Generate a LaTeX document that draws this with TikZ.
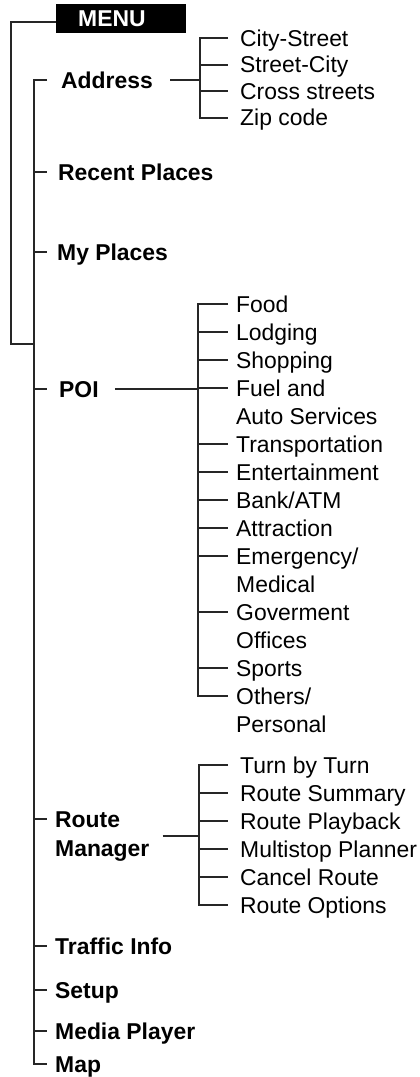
\documentclass[tikz,border=0pt]{standalone}
\usepackage{fontspec}
\setmainfont{Liberation Sans}
\usetikzlibrary{calc}

\newcommand{\menufont}{\fontsize{22.9pt}{28pt}\selectfont}

\tikzset{
  menubox/.style={fill=black, text=white, font=\menufont\bfseries, anchor=west,
    inner xsep=22pt, inner ysep=0pt, text width=86pt, minimum height=29pt},
  mainitem/.style={anchor=west, inner sep=0pt, font=\menufont\bfseries,
    text height=16.4pt, text depth=0pt},
  subitem/.style={anchor=west, inner sep=0pt, font=\menufont,
    text height=16.4pt, text depth=0pt},
  tree/.style={line width=2pt, draw=black!85}
}

\begin{document}
\begin{tikzpicture}[x=1pt, y=-1pt]
  \useasboundingbox (0,0) rectangle (420,1077);

  \node[menubox] (menu) at (56,18.5) {MENU};

  % main entries
  \node[mainitem] (address)  at (61,80)   {Address};
  \node[mainitem] (recent)   at (58,172)  {Recent Places};
  \node[mainitem] (myplaces) at (57,252)  {My Places};
  \node[mainitem] (poi)      at (59,389)  {POI};
  \node[mainitem] (route)    at (55,819)  {Route};
  \node[mainitem] (routemgr) at (55,848)  {Manager};
  \node[mainitem] (traffic)  at (55,946)  {Traffic Info};
  \node[mainitem] (setup)    at (55,990)  {Setup};
  \node[mainitem] (media)    at (55,1031) {Media Player};
  \node[mainitem] (map)      at (55,1064) {Map};

  \coordinate (outer)   at (11,344);
  \coordinate (trunk)   at (34,0);
  \coordinate (tickend) at (47,0);

  % trunk
  \draw[tree] ([yshift=-3pt]menu.west) -| (outer) -- (trunk |- outer);
  \draw[tree] (tickend |- address.west) -| (trunk |- map.west) -- (tickend |- map.west);
  \foreach \n in {recent, myplaces, poi, route, traffic, setup, media}
    \draw[tree] (trunk |- \n.west) -- (tickend |- \n.west);

  % address submenu
  \coordinate (addr-bar) at (200,0);
  \coordinate (addr-tip) at (228,0);
  \foreach \txt [count=\i from 0] in {City-Street, Street-City, Cross streets, Zip code}
    \node[subitem] (addr-\i) at (240,{38+26.5*\i}) {\txt};
  \draw[tree] (addr-tip |- addr-0.west) -| (addr-bar |- addr-3.west) -- (addr-tip |- addr-3.west);
  \foreach \i in {1,2}
    \draw[tree] (addr-bar |- addr-\i.west) -- (addr-tip |- addr-\i.west);
  \draw[tree] ([xshift=17pt]address.east) -- (addr-bar |- address.east);

  % poi submenu
  \coordinate (poi-bar) at (198,0);
  \coordinate (poi-tip) at (228,0);
  \foreach \txt [count=\i from 0] in {Food, Lodging, Shopping, Fuel and, Auto Services,
      Transportation, Entertainment, {Bank/ATM}, Attraction, {Emergency/}, Medical,
      Goverment, Offices, Sports, {Others/}, Personal}
    \node[subitem] (poi-\i) at (236,{304+28*\i}) {\txt};
  \draw[tree] (poi-tip |- poi-0.west) -| (poi-bar |- poi-14.west) -- (poi-tip |- poi-14.west);
  \foreach \i in {1,2,3,5,6,7,8,9,11,13}
    \draw[tree] (poi-bar |- poi-\i.west) -- (poi-tip |- poi-\i.west);
  \draw[tree] ([xshift=16pt]poi.east) -- (poi-bar |- poi.east);

  % route submenu
  \coordinate (route-bar) at (199,0);
  \coordinate (route-tip) at (228,0);
  \coordinate (route-mid) at ($(route.west)!.6!(routemgr.west)$);
  \foreach \txt [count=\i from 0] in {Turn by Turn, Route Summary, Route Playback,
      Multistop Planner, Cancel Route, Route Options}
    \node[subitem] (route-\i) at (240,{765+28*\i}) {\txt};
  \draw[tree] (route-tip |- route-0.west) -| (route-bar |- route-5.west) -- (route-tip |- route-5.west);
  \foreach \i in {1,...,4}
    \draw[tree] (route-bar |- route-\i.west) -- (route-tip |- route-\i.west);
  \draw[tree] ([xshift=13pt]routemgr.east |- route-mid) -- (route-bar |- route-mid);
\end{tikzpicture}
\end{document}
